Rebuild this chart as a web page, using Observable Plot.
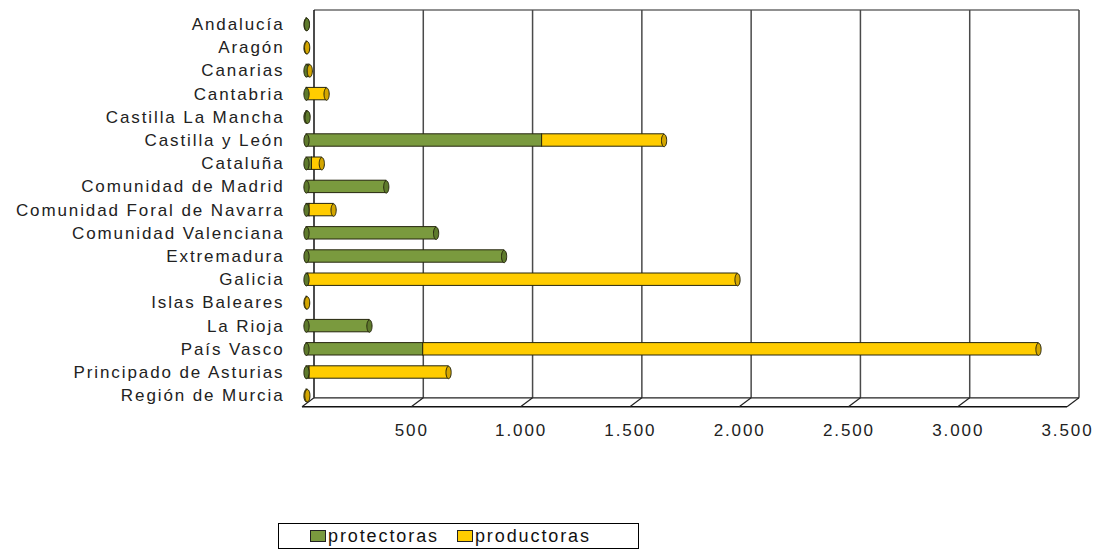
<!DOCTYPE html>
<html><head><meta charset="utf-8">
<script src="https://cdn.jsdelivr.net/npm/d3@7"></script>
<script src="https://cdn.jsdelivr.net/npm/@observablehq/plot@0.6"></script>
<style>
body{margin:0;background:#fff;font-family:"Liberation Sans",Arial,sans-serif;}
#wrap{width:1099px;height:552px;position:relative;overflow:hidden;}
#wrap svg{display:block;}
#wrap svg text{letter-spacing:1.9px;}
#legend{position:absolute;left:278px;top:523px;width:359px;height:24px;border:1px solid #000;display:flex;align-items:center;font-size:18px;letter-spacing:1.9px;color:#111;box-sizing:content-box;}
#legend .it{display:flex;align-items:center;}
.sw{display:inline-block;width:14px;height:10px;border:1px solid #222;margin-right:2px;}
</style></head><body><div id="wrap"></div>
<script>
const regions = ["Andalucía","Aragón","Canarias","Cantabria","Castilla La Mancha","Castilla y León","Cataluña","Comunidad de Madrid","Comunidad Foral de Navarra","Comunidad Valenciana","Extremadura","Galicia","Islas Baleares","La Rioja","País Vasco","Principado de Asturias","Región de Murcia"];
const protectoras = [2, 0, 10, 2, 5, 1078, 25, 365, 14, 593, 904, 8, 0, 288, 534, 14, 0];
const productoras = [0, 3, 5, 90, 0, 558, 45, 0, 110, 0, 0, 1964, 3, 0, 2815, 636, 4];
const seriesNames = ["protectoras", "productoras"];
const seriesColors = ["#7A9A3E", "#FFCC00"];
const capColors = ["#5E7A2C", "#D4A600"];
const xTicks = [500, 1000, 1500, 2000, 2500, 3000, 3500];
const xMax = 3500;

// stacked segments
const segs = [];
regions.forEach((r, i) => {
  let acc = 0;
  [protectoras[i], productoras[i]].forEach((v, s) => {
    if (v > 0) { segs.push({region: r, row: i, s, series: seriesNames[s], x1: acc, x2: acc + v}); acc += v; }
  });
});
const ends = regions.map((r, i) => { const l = segs.filter(d => d.row === i).pop(); return {row: i, x: l.x2, s: l.s}; });
const starts = segs.filter(d => d.x1 === 0);

const ellipse = {draw(ctx) {
  const rx = 2.6, ry = 6.2, k = 0.5523;
  ctx.moveTo(rx, 0);
  ctx.bezierCurveTo(rx, ry * k, rx * k, ry, 0, ry);
  ctx.bezierCurveTo(-rx * k, ry, -rx, ry * k, -rx, 0);
  ctx.bezierCurveTo(-rx, -ry * k, -rx * k, -ry, 0, -ry);
  ctx.bezierCurveTo(rx * k, -ry, rx, -ry * k, rx, 0);
  ctx.closePath();
}};

const fmt = d3.formatLocale({decimal: ",", thousands: ".", grouping: [3], currency: ["", "€"]}).format(",");

const capMarks = [];
[0, 1].forEach(s => {
  capMarks.push(Plot.dot(starts.filter(d => d.s === s), {x: "x1", y: d => d.row + 0.5, symbol: ellipse, fill: capColors[s], stroke: "#26260e", strokeWidth: 1}));
  capMarks.push(Plot.dot(ends.filter(d => d.s === s), {x: "x", y: d => d.row + 0.5, symbol: ellipse, fill: capColors[s], stroke: "#26260e", strokeWidth: 1}));
});

const chart = Plot.plot({
  width: 1099, height: 512,
  marginLeft: 306, marginRight: 28, marginTop: 12.4, marginBottom: 105.2,
  style: {fontFamily: '"Liberation Sans", Arial, sans-serif', fontSize: "17px", background: "#fff", color: "#222", overflow: "visible"},
  x: {domain: [0, xMax], axis: null},
  y: {domain: [0, regions.length], range: [12.4, 406.8], axis: null},
  color: {domain: seriesNames, range: seriesColors},
  marks: [
    Plot.rectX(segs, {x1: "x1", x2: "x2", y1: "row", y2: d => d.row + 1, insetTop: 5.4, insetBottom: 5.4, fill: "series", stroke: "#26260e", strokeWidth: 1, ariaLabel: "bars"}),
    ...capMarks,
    Plot.axisX(xTicks, {anchor: "bottom", tickSize: 0, tickPadding: 17, tickFormat: fmt, dx: -4, fontSize: 17, fill: "#222", label: null}),
    Plot.axisY(regions.map((_, i) => i + 0.5), {anchor: "left", tickSize: 0, tickPadding: 22, tickFormat: v => regions[Math.round(v - 0.5)], fontSize: 17, fill: "#222", label: null})
  ]
});

document.getElementById("wrap").appendChild(chart);

// gradients for cylinder look
const svg = d3.select(chart);
const defs = svg.insert("defs", ":first-child");
const grads = {
  protectoras: [[0, "#4E6626"], [0.3, "#8FB050"], [0.6, "#7A9A3E"], [1, "#4A6024"]],
  productoras: [[0, "#B89000"], [0.3, "#FFE05A"], [0.6, "#FFCC00"], [1, "#B08A00"]]
};
Object.entries(grads).forEach(([k, stops]) => {
  const lg = defs.append("linearGradient").attr("id", "g-" + k).attr("x1", 0).attr("y1", 0).attr("x2", 0).attr("y2", 1);
  stops.forEach(([o, c]) => lg.append("stop").attr("offset", o).attr("stop-color", c));
});
svg.selectAll('g[aria-label="bars"] rect').each(function() {
  const f = (this.getAttribute("fill") || "").toLowerCase();
  if (f === seriesColors[0].toLowerCase()) this.setAttribute("fill", "url(#g-protectoras)");
  else if (f === seriesColors[1].toLowerCase()) this.setAttribute("fill", "url(#g-productoras)");
});

// 3D wall / floor frame drawn with the plot's own scales
const xs = chart.scale("x"), ys = chart.scale("y");
const X = v => xs.apply(v);
const yTop = ys.apply(0) - 2.4, yFront = ys.apply(regions.length), yBack = yFront - 9;
const bx = 8, fx = -4;
const frame = svg.insert("g", "g").attr("fill", "none");
const line = (x1, y1, x2, y2, c, w) => frame.append("line").attr("x1", x1).attr("y1", y1).attr("x2", x2).attr("y2", y2).attr("stroke", c).attr("stroke-width", w);
const gridVals = [0, ...xTicks];
line(X(0) + bx, yTop, X(xMax) + bx, yTop, "#222", 1.2);
gridVals.forEach(t => line(X(t) + bx, yTop, X(t) + bx, yBack, t === 0 ? "#111" : "#4a4a4a", 1.5));
line(X(0) + bx, yBack, X(xMax) + bx, yBack, "#222", 1.2);
line(X(0) + fx, yFront, X(xMax) + fx, yFront, "#111", 1.5);
gridVals.forEach(t => line(X(t) + bx, yBack, X(t) + fx, yFront, "#222", 1.2));

// legend
const leg = document.createElement("div");
leg.id = "legend";
leg.innerHTML = seriesNames.map((n, i) =>
  `<span class="it" style="margin-left:${i === 0 ? 31 : 18}px"><span class="sw" style="background:${seriesColors[i]}"></span>${n}</span>`).join("");
document.getElementById("wrap").appendChild(leg);
</script>
</body></html>
